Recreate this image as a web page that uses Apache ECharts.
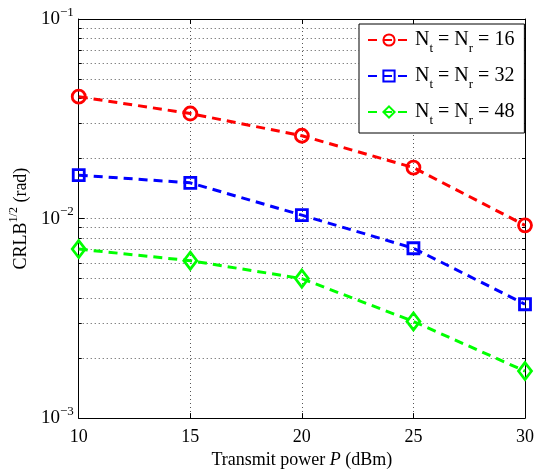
<!DOCTYPE html>
<html>
<head>
<meta charset="utf-8">
<script src="https://cdn.jsdelivr.net/npm/echarts@6/dist/echarts.min.js"></script>
<style>html,body{margin:0;padding:0;background:#fff}#c{width:537px;height:474px}</style>
</head>
<body>
<div id="c"></div>
<script>
const powerDbm = [10, 15, 20, 25, 30];
const crlb16 = [0.0408, 0.0336, 0.0260, 0.0180, 0.00925];
const crlb32 = [0.0165, 0.0151, 0.0104, 0.0071, 0.00372];
const crlb48 = [0.00703, 0.00615, 0.00500, 0.00305, 0.00172];
const antennaCounts = ['16', '32', '48'];
const xTicks = [10, 15, 20, 25, 30];
const yMinorTicks = [2,3,4,5,6,7,8,9].map(k => Math.log10(k * 0.001))
  .concat([2,3,4,5,6,7,8,9].map(k => Math.log10(k * 0.01)));

const FONT = '"Liberation Serif", "DejaVu Serif", serif';
const colors = ['#ff0000', '#0000ff', '#00ff00'];
const symbols = ['circle', 'rect', 'diamond'];
const symSizes = [13, 11, [13, 17]];
const dataSets = [crlb16, crlb32, crlb48];

const chart = echarts.init(document.getElementById('c'), null, {renderer: 'canvas'});
const gridLine = {show: true, lineStyle: {color: '#555', type: [1, 3], width: 1}};

const series = dataSets.map((d, i) => ({
  name: 'Nt = Nr = ' + antennaCounts[i],
  type: 'line',
  xAxisIndex: 0,
  yAxisIndex: 0,
  data: powerDbm.map((x, j) => [x, d[j]]),
  symbol: symbols[i],
  symbolSize: symSizes[i],
  showAllSymbol: true,
  lineStyle: {color: colors[i], width: 3, type: [9, 6]},
  itemStyle: {color: 'rgba(0,0,0,0)', borderColor: colors[i], borderWidth: 2.8},
  emphasis: {disabled: true},
  z: 5
}));

chart.setOption({
  animation: false,
  backgroundColor: '#fff',
  grid: {left: 77, right: 12, top: 19, bottom: 49, containLabel: false},
  legend: {
    orient: 'vertical',
    left: 359, top: 24,
    padding: [6, 10, 6, 8],
    itemGap: 11,
    itemWidth: 42, itemHeight: 14,
    backgroundColor: '#fff',
    borderColor: '#000', borderWidth: 1,
    data: series.map(s => s.name),
    formatter: function (name) {
      const n = name.split('= ').pop();
      return '{n|N}{s|t}{n| = N}{s|r}{n| = ' + n + '}';
    },
    textStyle: {
      fontFamily: FONT, fontSize: 20, color: '#000',
      rich: {
        n: {fontFamily: FONT, fontSize: 20, lineHeight: 30, color: '#000'},
        s: {fontFamily: FONT, fontSize: 13, lineHeight: 12, verticalAlign: 'bottom', color: '#000'}
      }
    }
  },
  xAxis: [
    {
      type: 'value', position: 'bottom', min: 10, max: 30, interval: 5,
      axisLine: {show: true, onZero: false, lineStyle: {color: '#000', width: 1}},
      axisTick: {show: true, inside: true, length: 5, lineStyle: {color: '#000'}},
      axisLabel: {fontFamily: FONT, fontSize: 18, color: '#000', margin: 10,
        customValues: xTicks},
      splitLine: gridLine,
      name: 'Transmit power {i|P} (dBm)',
      nameLocation: 'middle', nameGap: 28,
      nameTextStyle: {fontFamily: FONT, fontSize: 18, color: '#000',
        rich: {i: {fontFamily: FONT, fontSize: 18, fontStyle: 'italic', color: '#000'}}}
    },
    {
      type: 'value', position: 'top', min: 10, max: 30, interval: 5,
      axisLine: {show: true, onZero: false, lineStyle: {color: '#000', width: 1}},
      axisTick: {show: true, inside: true, length: 5, lineStyle: {color: '#000'}},
      axisLabel: {show: false}, splitLine: {show: false}
    }
  ],
  yAxis: [
    {
      type: 'log', logBase: 10, min: 0.001, max: 0.1, position: 'left',
      axisLine: {show: true, onZero: false, lineStyle: {color: '#000', width: 1}},
      axisTick: {show: true, inside: true, length: 6, lineStyle: {color: '#000'}},
      axisLabel: {
        margin: 5, color: '#000',
        formatter: function (v) {
          const e = Math.round(Math.log10(v));
          return '{b|10}{s|' + (e < 0 ? '\u2212' : '') + Math.abs(e) + '}';
        },
        rich: {
          b: {fontFamily: FONT, fontSize: 19, lineHeight: 26, color: '#000'},
          s: {fontFamily: FONT, fontSize: 13, lineHeight: 12, verticalAlign: 'top', color: '#000'}
        }
      },
      splitLine: gridLine,
      name: '{c|CRLB}{s|1/2}{c| (rad)}',
      nameLocation: 'middle', nameGap: 40, nameRotate: 90,
      nameTextStyle: {color: '#000', rich: {
        c: {fontFamily: FONT, fontSize: 18, lineHeight: 26, color: '#000'},
        s: {fontFamily: FONT, fontSize: 12, lineHeight: 12, verticalAlign: 'top', color: '#000'}
      }}
    },
    {
      type: 'log', logBase: 10, min: 0.001, max: 0.1, position: 'right',
      axisLine: {show: true, onZero: false, lineStyle: {color: '#000', width: 1}},
      axisTick: {show: true, inside: true, length: 6, lineStyle: {color: '#000'}},
      axisLabel: {show: false}, splitLine: {show: false}
    },
    {
      type: 'value', min: -3, max: -1, position: 'left',
      axisLine: {show: false},
      axisTick: {show: true, inside: true, length: 3, lineStyle: {color: '#000'}, customValues: yMinorTicks},
      axisLabel: {show: false, customValues: yMinorTicks},
      splitLine: gridLine
    },
    {
      type: 'value', min: -3, max: -1, position: 'right',
      axisLine: {show: false},
      axisTick: {show: true, inside: true, length: 3, lineStyle: {color: '#000'}, customValues: yMinorTicks},
      axisLabel: {show: false, customValues: yMinorTicks},
      splitLine: {show: false}
    }
  ],
  series: series
});
</script>
</body>
</html>
